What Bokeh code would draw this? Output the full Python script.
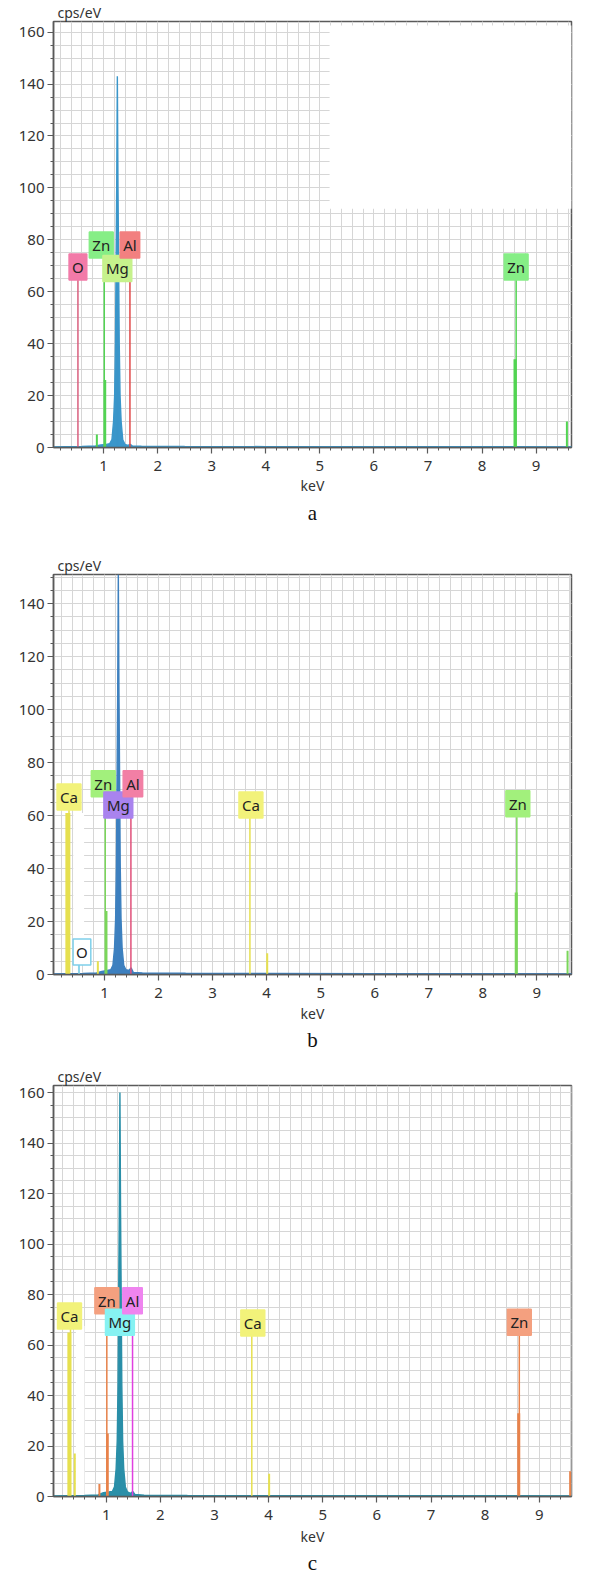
from bokeh.plotting import figure
from bokeh.models import ColumnDataSource, Range1d, FixedTicker, Title
from bokeh.layouts import column
from bokeh.embed import file_html
from bokeh.resources import INLINE
from bokeh.core.properties import value

# ---------------- data (keV, cps/eV) ----------------
# panel a
a_spec_kev = [0.07, 0.30, 0.60, 0.85, 0.95, 1.05, 1.114, 1.154, 1.184, 1.204, 1.219, 1.234, 1.242, 1.254,
              1.266, 1.274, 1.289, 1.304, 1.324, 1.354, 1.394, 1.45, 1.49, 1.53, 1.70, 2.50, 4.00, 6.00, 8.00, 9.66]
a_spec_cps = [0.2, 0.3, 0.4, 0.6, 1.0, 1.2, 1.5, 3.0, 10, 20, 40, 80, 100, 143,
              100, 80, 40, 20, 10, 3.0, 1.2, 0.8, 1.2, 0.6, 0.5, 0.4, 0.35, 0.3, 0.3, 0.25]
a_peak_kev = [0.875, 1.025, 8.61, 9.57]
a_peak_cps = [5, 26, 34, 10]
a_elem = ["O", "Zn", "Mg", "Al", "Zn"]
a_elem_kev = [0.525, 1.012, 1.254, 1.487, 8.631]
a_label_cps = [69.5, 78, 69, 78, 69.5]

# panel b
b_spec_kev = [0.05, 0.30, 0.60, 0.85, 0.95, 1.05, 1.114, 1.154, 1.184, 1.204, 1.219, 1.234, 1.242, 1.254,
              1.266, 1.274, 1.289, 1.304, 1.324, 1.354, 1.394, 1.45, 1.49, 1.53, 1.70, 2.50, 4.00, 6.00, 8.00, 9.65]
b_spec_cps = [0.2, 0.3, 0.4, 0.6, 1.2, 1.5, 1.8, 3.5, 10, 21, 42, 84, 106, 151,
              106, 84, 42, 21, 10, 3.5, 1.8, 1.5, 2.5, 0.8, 0.6, 0.5, 0.4, 0.3, 0.3, 0.25]
b_peak_kev = [0.32, 0.525, 0.875, 1.03, 4.01, 8.62, 9.57]
b_peak_cps = [61, 5, 5, 24, 8, 31, 9]
b_elem = ["Ca", "O", "Zn", "Mg", "Al", "Ca", "Zn"]
b_elem_kev = [0.341, 0.525, 1.012, 1.254, 1.487, 3.690, 8.631]
b_label_cps = [67, 8.5, 72, 64, 72, 64, 64.5]

# panel c
c_spec_kev = [0.03, 0.30, 0.60, 0.85, 0.95, 1.05, 1.114, 1.154, 1.184, 1.204, 1.219, 1.234, 1.242, 1.254,
              1.266, 1.274, 1.289, 1.304, 1.324, 1.354, 1.394, 1.45, 1.49, 1.53, 1.70, 2.50, 4.00, 6.00, 8.00, 9.60]
c_spec_cps = [0.2, 0.3, 0.4, 0.6, 1.5, 1.8, 2.0, 3.8, 11, 22, 44, 89, 112, 160,
              112, 89, 44, 22, 11, 3.8, 1.8, 1.2, 2.0, 0.8, 0.5, 0.4, 0.35, 0.3, 0.3, 0.25]
c_peak_kev = [0.32, 0.42, 0.875, 1.025, 4.01, 8.62, 9.57]
c_peak_cps = [65, 17, 5, 25, 9, 33, 10]
c_elem = ["Ca", "Zn", "Mg", "Al", "Ca", "Zn"]
c_elem_kev = [0.341, 1.012, 1.254, 1.487, 3.690, 8.631]
c_label_cps = [71.5, 77.5, 69, 77.5, 68.7, 69]

x_ticks = [1, 2, 3, 4, 5, 6, 7, 8, 9]
y_ticks = [0, 20, 40, 60, 80, 100, 120, 140, 160]
captions = ["a", "b", "c"]

# ---------------- styles ----------------
YEL, YEL_L = "#f2f27a", "#e6e04f"
GRN_A, GRN_A_L = "#86ee86", "#52d452"
GRN_B, GRN_B_L = "#a2f07c", "#7ad65a"
ORG, ORG_L = "#f4a07f", "#e8824a"

panels = [
    dict(kev=a_spec_kev, cps=a_spec_cps, pk=a_peak_kev, pc=a_peak_cps,
         pcol=[GRN_A_L, GRN_A_L, GRN_A_L, GRN_A_L], pw=[2, 2.5, 3, 2],
         el=a_elem, ek=a_elem_kev, ly=a_label_cps,
         fill=["#f27aa8", GRN_A, "#c6f28c", "#f28080", GRN_A],
         border=["#f27aa8", GRN_A, "#c6f28c", "#f28080", GRN_A],
         line=["#d9607f", GRN_A_L, "#3a94c8", "#e04a4a", GRN_A_L],
         dx=[0, -3, 0, 0, 0],
         main="#3a96ca", x0=0.073, x1=9.655, ytop=164.1,
         h=532, top=18, bottom=85, left=53, right=0,
         masks=[(5.18, 9.66, 92, 162.6)], kev_so=2, cap_so=3),
    dict(kev=b_spec_kev, cps=b_spec_cps, pk=b_peak_kev, pc=b_peak_cps,
         pcol=[YEL_L, "#8fd6ea", YEL_L, GRN_B_L, YEL_L, GRN_B_L, GRN_B_L], pw=[5, 2, 2, 2.5, 2, 3, 2],
         el=b_elem, ek=b_elem_kev, ly=b_label_cps,
         fill=[YEL, "#ffffff", GRN_B, "#a983ee", "#f27fa5", YEL, GRN_B],
         border=[YEL, "#7fd0ea", GRN_B, "#a983ee", "#f27fa5", YEL, GRN_B],
         line=[YEL_L, "#6cc7e0", GRN_B_L, "#3d7fbf", "#e0507a", YEL_L, GRN_B_L],
         dx=[0, 3, -2, 0, 2, 1, 1],
         main="#3d80bf", x0=0.054, x1=9.643, ytop=151,
         h=522, top=42, bottom=80, left=37, right=3,
         masks=[(0.42, 0.62, 13, 61)], kev_so=3, cap_so=0),
    dict(kev=c_spec_kev, cps=c_spec_cps, pk=c_peak_kev, pc=c_peak_cps,
         pcol=[YEL_L, YEL_L, ORG_L, ORG_L, YEL_L, ORG_L, ORG_L], pw=[4, 2, 2, 2.5, 2, 3, 2],
         el=c_elem, ek=c_elem_kev, ly=c_label_cps,
         fill=[YEL, ORG, "#86f2f2", "#ef84ef", YEL, ORG],
         border=[YEL, ORG, "#86f2f2", "#ef84ef", YEL, ORG],
         line=[YEL_L, ORG_L, "#2a8fa8", "#e040e0", YEL_L, ORG_L],
         dx=[-1, 0, 0, 0, 1, 0],
         main="#2a8fa8", x0=0.027, x1=9.595, ytop=162.8,
         h=522, top=31, bottom=80, left=40, right=9,
         masks=[(0.44, 0.60, 0.6, 67.5)], kev_so=4, cap_so=0),
]

AX = "#5a5a5a"
FONT = "Noto Sans"


def make_panel(d, cap):
    p = figure(width=580, height=d["h"], x_range=Range1d(d["x0"], d["x1"]),
               y_range=Range1d(0, d["ytop"]), output_backend="svg", toolbar_location=None,
               min_border_top=d["top"], min_border_bottom=d["bottom"],
               min_border_left=d["left"], min_border_right=d["right"])
    p.title.text = "cps/eV"
    p.title.align = "left"
    p.title.offset = 4
    p.title.standoff = 0
    p.title.text_font = FONT
    p.title.text_font_style = "normal"
    p.title.text_font_size = "14px"
    p.title.text_color = "#333333"

    p.xaxis.ticker = FixedTicker(ticks=x_ticks, minor_ticks=[i * 0.2 for i in range(0, 50)])
    p.yaxis.ticker = FixedTicker(ticks=y_ticks, minor_ticks=[i * 5 for i in range(0, 34)])
    for ax in (p.xaxis[0], p.yaxis[0]):
        ax.axis_line_color = AX
        ax.axis_line_width = 1.5
        ax.major_tick_line_color = AX
        ax.major_tick_line_width = 1.2
        ax.minor_tick_line_color = AX
        ax.major_tick_in = 0
        ax.major_tick_out = 6
        ax.minor_tick_in = 0
        ax.minor_tick_out = 3
        ax.major_label_text_font = FONT
        ax.major_label_text_font_size = "15px"
        ax.major_label_text_color = "#333333"
        ax.major_label_standoff = 3
    p.xaxis.major_label_standoff = 7
    p.xaxis.axis_label = "keV"
    p.xaxis.axis_label_text_font = FONT
    p.xaxis.axis_label_text_font_style = "normal"
    p.xaxis.axis_label_text_font_size = "14px"
    p.xaxis.axis_label_text_color = "#333333"
    p.xaxis.axis_label_standoff = d["kev_so"]

    for g in (p.xgrid[0], p.ygrid[0]):
        g.grid_line_color = "#d6d6d6"
        g.minor_grid_line_color = "#d6d6d6"
        g.grid_line_width = 1
    p.outline_line_color = AX
    p.outline_line_width = 1.5
    p.background_fill_color = "white"

    for (l, r, b, t) in d["masks"]:
        p.quad(left=[l], right=[r], bottom=[b], top=[t], fill_color="white", line_color=None)

    # continuum + main Mg peak
    spec = ColumnDataSource(dict(x=d["kev"], y=d["cps"], z=[0] * len(d["kev"])))
    p.varea(x="x", y1="z", y2="y", source=spec, fill_color=d["main"])
    p.line(x="x", y="y", source=spec, line_color=d["main"], line_width=1.4)

    # element marker lines
    mk = ColumnDataSource(dict(x=d["ek"], y=d["ly"], z=[0] * len(d["ek"]), c=d["line"],
                               t=d["el"], f=d["fill"], b=d["border"], dx=d["dx"]))
    p.segment(x0="x", y0="z", x1="x", y1="y", source=mk, line_color="c", line_width=1.5)

    # element peaks in the spectrum
    pkd = ColumnDataSource(dict(x=d["pk"], y=d["pc"], z=[0] * len(d["pk"]), c=d["pcol"], w=d["pw"]))
    p.segment(x0="x", y0="z", x1="x", y1="y", source=pkd, line_color="c", line_width="w")

    # labels
    p.text(x="x", y="y", text="t", source=mk, x_offset="dx", text_align="center",
           text_baseline="middle", text_font=value(FONT), text_font_size="15px",
           text_color="#222222", background_fill_color="f", border_line_color="b",
           border_line_width=1.5, padding=3)

    p.add_layout(Title(text=cap, align="center", text_font="Liberation Serif",
                       text_font_size="21px", text_font_style="normal", text_color="#111111",
                       standoff=d["cap_so"]), "below")
    return p


figs = [make_panel(d, c) for d, c in zip(panels, captions)]
layout = column(*figs, spacing=0)
open("out.html", "w").write(file_html(layout, INLINE))
